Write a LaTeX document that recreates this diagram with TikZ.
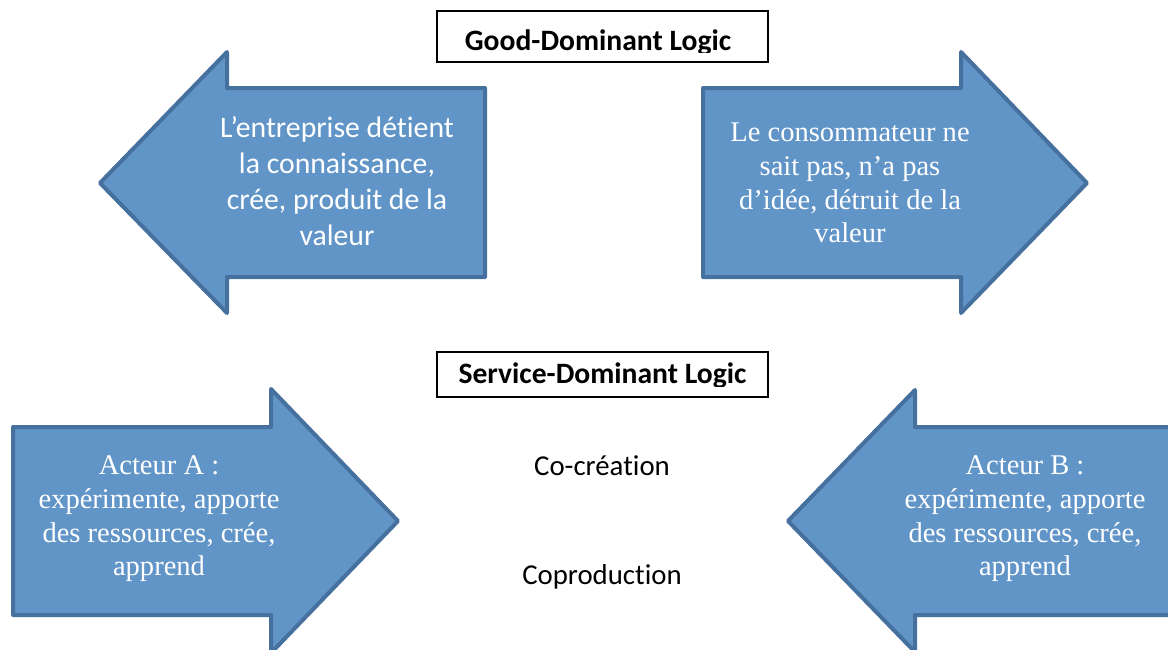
\documentclass[tikz,border=0pt]{standalone}
\usepackage{fontspec}
\setmainfont{Carlito}[Ligatures=CommonOff]
\newfontfamily\tnr{Liberation Serif}
\definecolor{arrfill}{RGB}{97,149,200}
\definecolor{arrdraw}{RGB}{70,112,158}
\tikzset{
  bigarrow/.style={fill=arrfill, draw=arrdraw, line width=3pt, line join=round},
  sanstext/.style={text=white, align=center, inner sep=0pt, font=\fontsize{22.3}{27}\selectfont},
  seriftext/.style={text=white, align=center, inner sep=0pt, font=\tnr\fontsize{21.4}{25.3}\selectfont},
  titlebox/.style={draw=black, line width=0.9pt},
  titletext/.style={anchor=base, inner sep=0pt, font=\bfseries\fontsize{22.2}{25}\selectfont},
  plaintext/.style={anchor=base, inner sep=0pt, font=\fontsize{21.6}{25}\selectfont}
}
\begin{document}
\begin{tikzpicture}[x=0.75pt, y=-0.75pt]
\useasboundingbox (0,0) rectangle (1168,650);
% Good-Dominant Logic
\draw[titlebox] (437,11) rectangle (768,62);
\begin{scope}
  \clip (437,11) rectangle (768,52.5);
  \node[titletext] (gdl) at (598,50) {Good-Dominant Logic};
\end{scope}
% top arrows
\draw[bigarrow] (100,183) -- (227,52) -- (227,88) -- (485,88) -- (485,277) -- (227,277) -- (227,313) -- cycle;
\node[sanstext] (entreprise) at (337,181) {L’entreprise détient\\la connaissance,\\crée, produit de la\\valeur};
\draw[bigarrow] (1087,183) -- (961,52) -- (961,88) -- (703,88) -- (703,277) -- (961,277) -- (961,313) -- cycle;
\node[seriftext] (consommateur) at (850,183) {Le consommateur ne\\sait pas, n’a pas\\d’idée, détruit de la\\valeur};
% Service-Dominant Logic
\draw[titlebox] (437,352) rectangle (768,397);
\begin{scope}
  \clip (437,352) rectangle (768,386);
  \node[titletext] (sdl) at (602.5,383) {Service-Dominant Logic};
\end{scope}
% bottom arrows
\draw[bigarrow] (398,521) -- (271,389) -- (271,427) -- (13,427) -- (13,615) -- (271,615) -- (271,653) -- cycle;
\node[seriftext] (acteurA) at (159,519) {Acteur A :\\expérimente, apporte\\des ressources, crée,\\apprend};
\draw[bigarrow] (788,521) -- (915,390) -- (915,427) -- (1185,427) -- (1185,615) -- (915,615) -- (915,652) -- cycle;
\node[seriftext] (acteurB) at (1025,519) {Acteur B :\\expérimente, apporte\\des ressources, crée,\\apprend};
% centre texts
\node[plaintext] (cocreation) at (602,475) {Co-création};
\begin{scope}
  \clip (500,550) rectangle (720,588);
  \node[plaintext] (coproduction) at (602,584) {Coproduction};
\end{scope}
\end{tikzpicture}
\end{document}
